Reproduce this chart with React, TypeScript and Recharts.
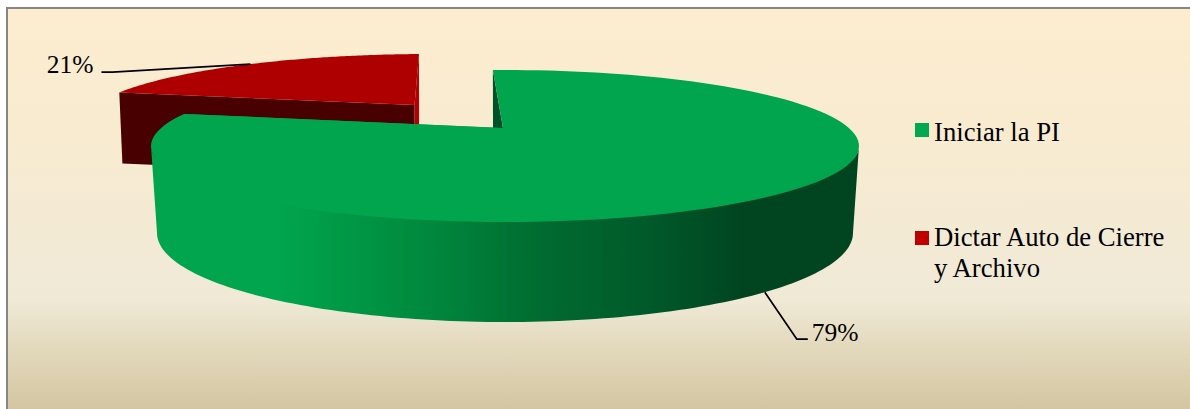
import React from "react";
import { PieChart, Pie, Legend } from "recharts";

const categories = ["Iniciar la PI", "Dictar Auto de Cierre y Archivo"];
const values = [79, 21];
const legendColors = ["#00a84f", "#c00000"];

// The red wedge paints first so the larger green wedge sits in front of it.
const pieRows = categories
  .map((name, i) => ({ name, value: values[i], fill: legendColors[i] }))
  .reverse();

type SliceView = {
  dx: number;
  dy: number;
  rxScale: number;
  ry: number;
  apexShift: number;
  apexLift: number;
  depth: number;
  bottomXScale: number;
  top: string;
  startWall: string;
  endWall: string;
  wall?: string;
  bottomRy?: number;
  label: {
    nudge: number;
    elbow: [number, number];
    tail: number;
    textGap: number;
    textDy: number;
    anchor: "start" | "end";
  };
};

const views: Record<string, SliceView> = {
  [categories[0]]: {
    dx: 0,
    dy: 0,
    rxScale: 1,
    ry: 76,
    apexShift: -2,
    apexLift: 0.237,
    depth: 87,
    bottomXScale: 0.983,
    bottomRy: 89,
    top: "#00a54d",
    startWall: "#00502a",
    endWall: "#00a54d",
    wall: "url(#sideShade)",
    label: { nudge: -1.5, elbow: [32, 47], tail: 11, textGap: 4, textDy: 2, anchor: "start" },
  },
  [categories[1]]: {
    dx: -74.5,
    dy: -22,
    rxScale: 0.985,
    ry: 70,
    apexShift: -16,
    apexLift: 0.27,
    depth: 71,
    bottomXScale: 0.99,
    top: "#ae0000",
    startWall: "#480000",
    endWall: "#b40000",
    label: { nudge: 0, elbow: [-138, 8], tail: -11, textGap: -8, textDy: 1, anchor: "end" },
  },
};

const RAD = Math.PI / 180;

// Projects a pie angle onto the tilted rim; the lift moves the hub off the ellipse centre.
function rimPoint(angle: number, cx: number, cy: number, rx: number, ry: number, lift: number): [number, number] {
  const theta = (90 - angle) * RAD;
  const u = Math.sin(theta);
  const v = Math.cos(theta);
  const d = 1 + lift * v;
  const vp = (v + lift) / d;
  const up = (u * Math.sqrt(1 - lift * lift)) / d;
  return [cx + up * rx, cy - vp * ry];
}

const toPath = (pts: [number, number][]) =>
  pts.map((p, i) => `${i ? "L" : "M"}${p[0].toFixed(2)} ${p[1].toFixed(2)}`).join(" ") + " Z";

function Slice3D(props: any) {
  const view = views[props.name];
  const cx = props.cx + view.dx;
  const cy = props.cy + view.dy;
  const rx = props.outerRadius * view.rxScale;
  const { ry, apexLift, depth, bottomXScale } = view;
  const apex: [number, number] = [cx + view.apexShift, cy - apexLift * ry];
  const steps = 120;
  const rim: [number, number][] = [];
  for (let i = 0; i <= steps; i++) {
    const a = props.startAngle + ((props.endAngle - props.startAngle) * i) / steps;
    rim.push(rimPoint(a, cx, cy, rx, ry, apexLift));
  }
  const lower = (p: [number, number]): [number, number] => [cx + (p[0] - cx) * bottomXScale, p[1] + depth];
  const first = rim[0];
  const last = rim[rim.length - 1];

  const outer: [number, number][] = [];
  if (view.wall) {
    const brx = rx * bottomXScale;
    const bry = view.bottomRy ?? ry;
    // The wall's upper edge tucks a few pixels under the top face so no seam shows.
    for (let i = 0; i <= steps; i++) {
      const t = (Math.PI * i) / steps;
      outer.push([cx + rx * Math.cos(t), cy + (ry - 4) * Math.sin(t)]);
    }
    for (let i = steps; i >= 0; i--) {
      const t = (Math.PI * i) / steps;
      outer.push([cx + brx * Math.cos(t), cy + depth + bry * Math.sin(t)]);
    }
  }

  return (
    <g>
      <path d={toPath([last, apex, lower(apex), lower(last)])} fill={view.endWall} />
      <path d={toPath([first, apex, lower(apex), lower(first)])} fill={view.startWall} />
      {view.wall ? <path d={toPath(outer)} fill={view.wall} /> : null}
      <path d={toPath([apex, ...rim])} fill={view.top} />
    </g>
  );
}

function SliceLabel(props: any) {
  const view = views[props.name];
  if (!view) return null;
  const { nudge, elbow, tail, textGap, textDy, anchor } = view.label;
  const cx = props.cx + view.dx;
  const cy = props.cy + view.dy;
  const rx = props.outerRadius * view.rxScale;
  let start = rimPoint(props.midAngle + nudge, cx, cy, rx, view.ry, view.apexLift);
  if (view.wall) {
    // The green wedge's leader leaves from the lower edge of its side wall.
    const [x, y] = start;
    const ny = (y - cy) / view.ry;
    start = [cx + (x - cx) * view.bottomXScale, cy + view.depth + ny * (view.bottomRy ?? view.ry)];
  }
  const knee: [number, number] = [start[0] + elbow[0], start[1] + elbow[1]];
  const end: [number, number] = [knee[0] + tail, knee[1]];
  return (
    <g>
      <polyline
        points={`${start[0]},${start[1]} ${knee[0]},${knee[1]} ${end[0]},${end[1]}`}
        fill="none"
        stroke="#000"
        strokeWidth={1.75}
      />
      <text
        x={end[0] + textGap}
        y={end[1] + textDy}
        textAnchor={anchor}
        fontFamily="'Liberation Serif', serif"
        fontSize={25.5}
        fill="#000"
      >
        {`${Math.round(props.percent * 100)}%`}
      </text>
    </g>
  );
}

function LegendList({ payload }: any) {
  const items = [...(payload ?? [])].sort(
    (a: any, b: any) => categories.indexOf(a.value) - categories.indexOf(b.value)
  );
  return (
    <div style={{ fontFamily: "'Liberation Serif', serif", fontSize: 26.7, lineHeight: "31px", color: "#000" }}>
      {items.map((item: any, i: number) => (
        <div key={item.value} style={{ position: "relative", paddingLeft: 19, marginTop: i ? 74 : 0 }}>
          <span
            style={{
              position: "absolute",
              left: 0,
              top: i ? 9 : 6,
              width: 14,
              height: 14,
              background: item.color,
            }}
          />
          {item.value}
        </div>
      ))}
    </div>
  );
}

export default function App() {
  return (
    <div
      style={{
        position: "absolute",
        left: 0,
        top: 0,
        width: 1190,
        height: 409,
        overflow: "hidden",
        background: "#fff",
      }}
    >
      <div
        style={{
          position: "absolute",
          left: 6,
          top: 7,
          width: 1200,
          height: 420,
          boxSizing: "border-box",
          border: "2px solid #868686",
          background:
            "linear-gradient(180deg, #fdedd0 0%, #f8ebd0 30%, #f2ead6 60%, #efe9d6 70%, #e2d8bb 82%, #d4c6a2 96%)",
        }}
      />
      <div style={{ position: "absolute", left: 0, top: 0 }}>
        <PieChart width={1190} height={409} margin={{ top: 0, right: 0, bottom: 0, left: 0 }}>
          <defs>
            <linearGradient id="sideShade" gradientUnits="userSpaceOnUse" x1={151} y1={0} x2={859} y2={0}>
              <stop offset="0" stopColor="#00a54d" />
              <stop offset="0.18" stopColor="#00a54d" />
              <stop offset="0.4" stopColor="#00873d" />
              <stop offset="0.55" stopColor="#006b30" />
              <stop offset="0.7" stopColor="#005a2a" />
              <stop offset="0.84" stopColor="#004420" />
              <stop offset="1" stopColor="#004420" />
            </linearGradient>
          </defs>
          <Pie
            data={pieRows}
            dataKey="value"
            nameKey="name"
            cx={505}
            cy={146}
            outerRadius={354}
            startAngle={168.1}
            endAngle={-191.9}
            stroke="none"
            isAnimationActive={false}
            shape={Slice3D}
            inactiveShape={Slice3D}
            activeShape={Slice3D}
            label={SliceLabel}
            labelLine={false}
            rootTabIndex={-1}
          />
          <Legend
            layout="vertical"
            content={LegendList}
            wrapperStyle={{ left: 915, top: 117, width: 264, bottom: "auto", right: "auto" }}
          />
        </PieChart>
      </div>
    </div>
  );
}
